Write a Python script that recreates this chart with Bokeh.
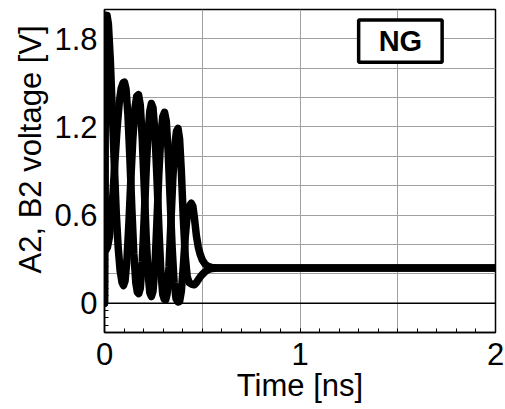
from bokeh.plotting import figure
from bokeh.models import FixedTicker, Range1d, Span, BoxAnnotation, Label, Title
from bokeh.embed import file_html
from bokeh.resources import INLINE

# ---- data (time in ns, voltage in V) ----
t_a = [0.000, 0.004, 0.008, 0.013, 0.020, 0.030, 0.040, 0.050, 0.060, 0.070,
       0.080, 0.090, 0.097, 0.105, 0.115, 0.125, 0.135, 0.145, 0.155, 0.165,
       0.174, 0.183, 0.193, 0.203, 0.213, 0.223, 0.232, 0.240, 0.248, 0.258,
       0.268, 0.278, 0.288, 0.298, 0.307, 0.316, 0.326, 0.336, 0.346, 0.356,
       0.366, 0.376, 0.384, 0.393, 0.403, 0.413, 0.423, 0.433, 0.444, 0.452,
       0.460, 0.470, 0.480, 0.490, 0.500, 0.515, 0.530, 0.550, 0.580, 2.000]
v_a = [0.00, 1.30, 1.80, 1.96, 1.90, 1.65, 1.30, 0.95, 0.62, 0.38,
       0.22, 0.14, 0.12, 0.15, 0.30, 0.55, 0.85, 1.12, 1.32, 1.41,
       1.42, 1.35, 1.12, 0.80, 0.46, 0.20, 0.07, 0.045, 0.08, 0.25,
       0.55, 0.88, 1.14, 1.27, 1.30, 1.24, 1.02, 0.70, 0.38, 0.14,
       0.03, 0.008, 0.01, 0.08, 0.25, 0.45, 0.60, 0.66, 0.68, 0.66,
       0.58, 0.46, 0.38, 0.33, 0.295, 0.265, 0.25, 0.242, 0.24, 0.24]

t_b = [0.000, 0.001, 0.004, 0.007, 0.015, 0.025, 0.035, 0.045, 0.055, 0.065,
       0.075, 0.085, 0.095, 0.102, 0.110, 0.120, 0.130, 0.140, 0.150, 0.160,
       0.168, 0.175, 0.183, 0.193, 0.203, 0.213, 0.223, 0.232, 0.240, 0.248,
       0.258, 0.268, 0.278, 0.288, 0.298, 0.306, 0.313, 0.320, 0.330, 0.340,
       0.350, 0.360, 0.368, 0.376, 0.384, 0.393, 0.403, 0.413, 0.423, 0.433,
       0.445, 0.459, 0.470, 0.480, 0.490, 0.500, 0.515, 0.530, 0.550, 0.580,
       2.000]
v_b = [0.00, 1.08, 0.50, 0.36, 0.38, 0.45, 0.58, 0.78, 1.00, 1.20,
       1.36, 1.46, 1.50, 1.505, 1.46, 1.28, 0.98, 0.64, 0.34, 0.14,
       0.075, 0.065, 0.10, 0.28, 0.58, 0.90, 1.16, 1.31, 1.36, 1.33,
       1.16, 0.86, 0.52, 0.22, 0.06, 0.025, 0.022, 0.06, 0.25, 0.56,
       0.86, 1.08, 1.17, 1.19, 1.12, 0.90, 0.58, 0.32, 0.18, 0.14,
       0.13, 0.125, 0.14, 0.16, 0.18, 0.195, 0.215, 0.228, 0.236, 0.24,
       0.24]

x_ticks = [0, 1, 2]
y_ticks = [0, 0.6, 1.2, 1.8]
y_labels = {0: "0", 0.6: "0.6", 1.2: "1.2", 1.8: "1.8"}
x_grid = [0.5, 1.0, 1.5]
y_grid = [0.2, 0.4, 0.6, 0.8, 1.0, 1.2, 1.4, 1.6, 1.8]
x_minor = [i / 10 for i in range(0, 21)]
y_minor = [i / 20 for i in range(-4, 41)]

FONT = "Liberation Sans"

p = figure(width=505, height=409, output_backend="svg", toolbar_location=None,
           x_range=Range1d(0, 2), y_range=Range1d(-0.2, 2.0),
           min_border_left=104, min_border_right=10, min_border_top=9,
           min_border_bottom=77)
p.background_fill_color = "white"
p.border_fill_color = "white"
p.outline_line_color = "black"
p.outline_line_width = 1.5

# grid
p.xgrid.ticker = FixedTicker(ticks=x_grid)
p.ygrid.ticker = FixedTicker(ticks=y_grid)
for g in (p.xgrid, p.ygrid):
    g.grid_line_color = "#a0a0a0"
    g.grid_line_width = 1

p.add_layout(Span(location=0, dimension="width", line_color="black", line_width=1.5))

# axes
p.xaxis.ticker = FixedTicker(ticks=x_ticks, minor_ticks=x_minor)
p.yaxis.ticker = FixedTicker(ticks=y_ticks, minor_ticks=y_minor)
p.yaxis.major_label_overrides = y_labels
for ax in (p.xaxis, p.yaxis):
    ax.axis_line_color = "black"
    ax.axis_line_width = 1.5
    ax.major_tick_in = 4
    ax.major_tick_out = 0
    ax.minor_tick_in = 4
    ax.minor_tick_out = 0
    ax.major_tick_line_color = "black"
    ax.minor_tick_line_color = "black"
    ax.major_label_text_font = FONT
    ax.major_label_text_font_size = "31px"
    ax.major_label_text_color = "black"
    ax.axis_label_text_font = FONT
    ax.axis_label_text_font_size = "31px"
    ax.axis_label_text_font_style = "normal"
    ax.axis_label_text_color = "black"
p.xaxis.axis_label = "Time [ns]"
p.xaxis.major_label_standoff = 10
p.xaxis.axis_label_standoff = 0
p.yaxis.major_label_standoff = 7

# y axis title, shifted above the frame centre as in the reference
p.add_layout(Title(text="A2, B2 voltage [V]", align="left", offset=59,
                   vertical_align="bottom", standoff=8,
                   text_font=FONT, text_font_size="31px",
                   text_font_style="normal", text_color="black"), "left")

# curves
p.line(t_b, v_b, line_color="black", line_width=7.5, line_join="round", line_cap="round")
p.line(t_a, v_a, line_color="black", line_width=7.5, line_join="round", line_cap="round")

# NG badge
p.add_layout(BoxAnnotation(left=1.30, right=1.727, bottom=1.641, top=1.929,
                           fill_color="white", fill_alpha=1.0,
                           line_color="black", line_alpha=1.0, line_width=3.5))
p.add_layout(Label(x=1.5135, y=1.785, text="NG", text_align="center",
                   text_baseline="middle", text_font=FONT, text_font_size="29px",
                   text_font_style="bold", text_color="black"))

open("out.html", "w").write(file_html(p, INLINE))
